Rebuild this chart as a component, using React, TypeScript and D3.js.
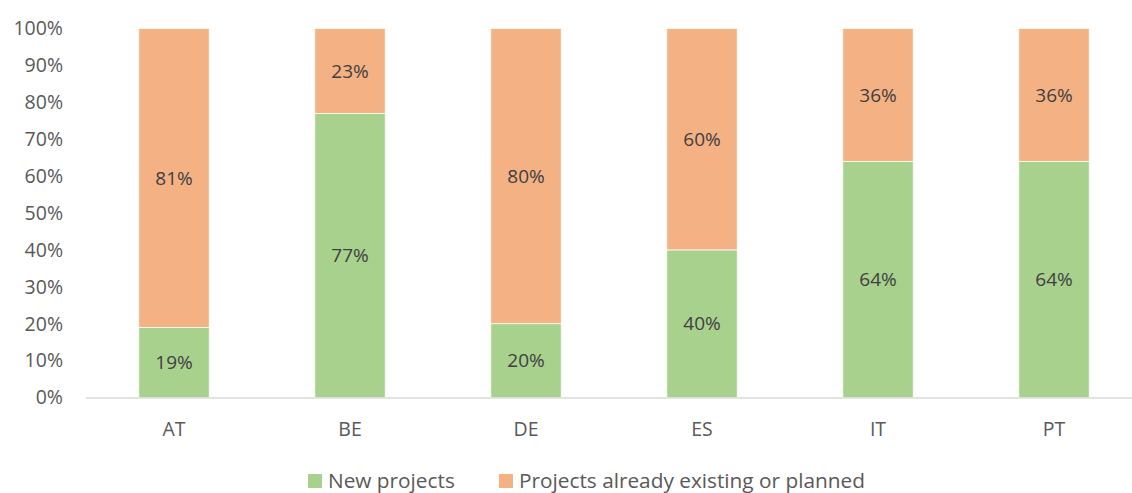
import React, { useEffect, useRef } from 'react';
import * as d3 from 'd3';

const countries = ['AT', 'BE', 'DE', 'ES', 'IT', 'PT'];
const newProjects = [19, 77, 20, 40, 64, 64];
const existingProjects = [81, 23, 80, 60, 36, 36];
const yTicks = [0, 10, 20, 30, 40, 50, 60, 70, 80, 90, 100];
const seriesNames = ['New projects', 'Projects already existing or planned'];
const seriesColors = ['#A9D18E', '#F4B183'];

const FONT = '"Open Sans", sans-serif';

const App: React.FC = () => {
  const svgRef = useRef<SVGSVGElement>(null);

  useEffect(() => {
    if (!svgRef.current) return;
    const svg = d3.select(svgRef.current);
    svg.selectAll('*').remove();

    const width = 1132;
    const height = 493;
    const left = 86;
    const top = 28.5;
    const bottom = 397.5;

    const x = d3.scaleBand<string>()
      .domain(countries)
      .range([left, left + 176 * countries.length])
      .paddingInner(0.6)
      .paddingOuter(0.3);

    const y = d3.scaleLinear().domain([0, 100]).range([bottom, top]);

    // stacked data
    const rows = countries.map((c, i) => ({ country: c, a: newProjects[i], b: existingProjects[i] }));
    const stack = d3.stack<{ country: string; a: number; b: number }>().keys(['a', 'b']);
    const layers = stack(rows);

    layers.forEach((layer, li) => {
      const g = svg.append('g');
      g.selectAll('rect')
        .data(layer)
        .join('rect')
        .attr('x', d => x(d.data.country)!)
        .attr('width', x.bandwidth())
        .attr('y', d => y(d[1]))
        .attr('height', d => y(d[0]) - y(d[1]))
        .attr('fill', seriesColors[li])
        .attr('stroke', '#fff')
        .attr('stroke-width', 0.75);

      g.selectAll('text')
        .data(layer)
        .join('text')
        .attr('x', d => x(d.data.country)! + x.bandwidth() / 2)
        .attr('y', d => (y(d[0]) + y(d[1])) / 2)
        .attr('dy', '0.35em')
        .attr('text-anchor', 'middle')
        .attr('font-family', FONT)
        .attr('font-size', 19)
        .attr('fill', '#404040')
        .text(d => `${d[1] - d[0]}%`);
    });

    // y tick labels
    svg.append('g')
      .selectAll('text')
      .data(yTicks)
      .join('text')
      .attr('x', 63)
      .attr('y', d => y(d))
      .attr('dy', '0.35em')
      .attr('text-anchor', 'end')
      .attr('font-family', FONT)
      .attr('font-size', 19.5)
      .attr('fill', '#595959')
      .text(d => `${d}%`);

    // x axis line
    svg.append('line')
      .attr('x1', left)
      .attr('x2', width)
      .attr('y1', bottom + 0.5)
      .attr('y2', bottom + 0.5)
      .attr('stroke', '#D9D9D9')
      .attr('stroke-width', 1.5);

    // category labels
    svg.append('g')
      .selectAll('text')
      .data(countries)
      .join('text')
      .attr('x', d => x(d)! + x.bandwidth() / 2)
      .attr('y', 429)
      .attr('dy', '0.35em')
      .attr('text-anchor', 'middle')
      .attr('font-family', FONT)
      .attr('font-size', 19.5)
      .attr('fill', '#595959')
      .text(d => d);

    // legend
    const legendX = [308, 499];
    seriesNames.forEach((name, i) => {
      svg.append('rect')
        .attr('x', legendX[i])
        .attr('y', 474)
        .attr('width', 14)
        .attr('height', 14)
        .attr('fill', seriesColors[i]);
      svg.append('text')
        .attr('x', legendX[i] + 20)
        .attr('y', 487.5)
        .attr('font-family', FONT)
        .attr('font-size', 20.8)
        .attr('fill', '#595959')
        .text(name);
    });

    svg.attr('width', width).attr('height', height);
  }, []);

  return (
    <svg
      ref={svgRef}
      width={1132}
      height={493}
      style={{ position: 'absolute', left: 0, top: 0, background: '#fff' }}
    />
  );
};

export default App;
